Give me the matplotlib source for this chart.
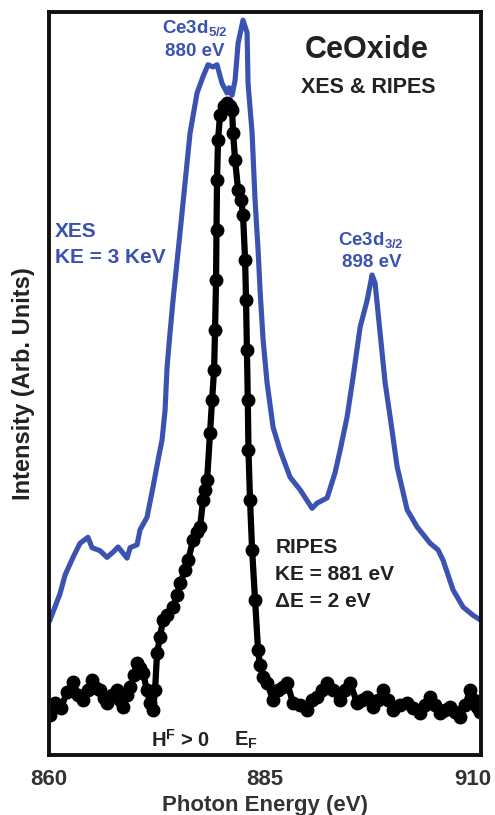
import matplotlib.pyplot as plt
import matplotlib.transforms as mtransforms

plt.rcParams['font.family'] = ['Liberation Sans', 'DejaVu Sans']
plt.rcParams['font.weight'] = 'bold'
plt.rcParams['axes.labelweight'] = 'bold'
plt.rcParams['mathtext.fontset'] = 'custom'
plt.rcParams['mathtext.rm'] = 'Liberation Sans:bold'
plt.rcParams['mathtext.it'] = 'Liberation Sans:bold'
plt.rcParams['mathtext.bf'] = 'Liberation Sans:bold'

BLUE = '#3a52b0'
DARK = '#222222'

# XES spectrum (blue line)
xes_energy = [
    860.12, 861.27, 861.85, 862.78, 863.59, 864.51, 864.98, 865.90, 866.71,
    867.41, 867.99, 869.03, 869.38, 870.19, 870.53, 871.34, 872.04, 872.62,
    873.08, 873.43, 873.66, 874.00, 874.35, 875.16, 875.74, 876.32, 877.13,
    877.82, 878.40, 878.98, 879.44, 880.02, 880.60, 880.83, 881.18, 881.53,
    881.88, 882.45, 882.92, 883.03, 883.50, 883.84, 884.19, 884.42, 884.77,
    885.23, 885.93, 886.74, 887.89, 889.05, 890.44, 891.02, 892.18, 893.10,
    893.68, 894.49, 895.19, 896.00, 896.81, 897.38, 897.73, 898.31, 898.89,
    899.47, 900.28, 901.44, 902.59, 904.10, 905.02, 905.60, 906.76, 907.92,
    909.07, 909.88,
]
xes_intensity = [
    0.182, 0.217, 0.242, 0.266, 0.285, 0.293, 0.279, 0.275, 0.266,
    0.273, 0.280, 0.265, 0.279, 0.283, 0.303, 0.320, 0.361, 0.397,
    0.424, 0.464, 0.522, 0.568, 0.612, 0.703, 0.770, 0.837, 0.891,
    0.913, 0.929, 0.926, 0.929, 0.904, 0.891, 0.898, 0.888, 0.908,
    0.958, 0.989, 0.972, 0.904, 0.837, 0.747, 0.680, 0.626, 0.559,
    0.501, 0.441, 0.410, 0.374, 0.357, 0.332, 0.339, 0.346, 0.380,
    0.410, 0.455, 0.509, 0.576, 0.612, 0.646, 0.635, 0.568, 0.501,
    0.455, 0.388, 0.330, 0.307, 0.285, 0.276, 0.262, 0.222, 0.199,
    0.188, 0.182,
]

# RIPES spectrum (black dots)
ripes_energy = [
    860.12, 860.69, 861.39, 862.08, 862.78, 863.36, 863.94, 864.51, 864.98,
    865.44, 865.90, 866.37, 866.71, 867.29, 867.87, 868.22, 868.56, 869.03,
    869.38, 869.84, 870.19, 870.53, 870.88, 871.34, 871.69, 872.04, 872.27,
    872.50, 872.85, 873.19, 873.66, 874.35, 874.81, 875.16, 875.74, 876.09,
    876.67, 877.13, 877.48, 877.82, 878.06, 878.29, 878.63, 878.87, 879.10,
    879.21, 879.33, 879.38, 879.44, 879.56, 879.79, 880.25, 880.60, 880.95,
    881.18, 881.30, 881.53, 881.88, 882.22, 882.45, 882.69, 882.80, 882.90,
    883.00, 883.08, 883.26, 883.50, 883.84, 884.19, 884.42, 884.77, 885.23,
    885.93, 886.50, 887.08, 887.55, 888.24, 889.05, 889.86, 890.44, 891.02,
    891.60, 892.18, 892.87, 893.68, 894.26, 894.84, 895.65, 896.23, 896.81,
    897.50, 898.08, 898.66, 899.24, 899.81, 900.63, 901.44, 902.13, 902.94,
    903.52, 904.10, 904.68, 905.25, 905.83, 906.41, 906.99, 907.57, 908.15,
    908.73, 909.19, 909.54, 909.88,
]
ripes_intensity = [
    0.054, 0.070, 0.063, 0.085, 0.098, 0.081, 0.074, 0.087, 0.101,
    0.090, 0.087, 0.077, 0.070, 0.081, 0.087, 0.074, 0.065, 0.081,
    0.092, 0.108, 0.124, 0.117, 0.110, 0.087, 0.070, 0.061, 0.087,
    0.137, 0.159, 0.182, 0.188, 0.199, 0.215, 0.231, 0.249, 0.262,
    0.289, 0.300, 0.307, 0.343, 0.357, 0.370, 0.433, 0.478, 0.518,
    0.572, 0.639, 0.707, 0.774, 0.828, 0.861, 0.873, 0.878, 0.873,
    0.868, 0.837, 0.801, 0.760, 0.747, 0.727, 0.666, 0.612, 0.545,
    0.478, 0.410, 0.343, 0.276, 0.209, 0.141, 0.121, 0.105, 0.097,
    0.074, 0.087, 0.092, 0.097, 0.070, 0.067, 0.061, 0.074, 0.078,
    0.087, 0.097, 0.087, 0.074, 0.087, 0.097, 0.070, 0.074, 0.078,
    0.065, 0.074, 0.087, 0.074, 0.061, 0.067, 0.070, 0.063, 0.057,
    0.067, 0.078, 0.067, 0.057, 0.061, 0.065, 0.058, 0.051, 0.067,
    0.087, 0.074, 0.065, 0.058,
]

xticks = [860, 885, 910]

fig = plt.figure(figsize=(4.95, 8.15), dpi=100)
ax = fig.add_axes([0.099, 0.0736, 0.873, 0.9117])

ax.plot(xes_energy, xes_intensity, color=BLUE, linewidth=3.7, solid_joinstyle='round')
ax.plot(ripes_energy, ripes_intensity, color='black', linewidth=4.5,
        marker='o', markersize=9)

ax.set_xlim(860, 910)
ax.set_ylim(0, 1)
ax.set_xticks(xticks)
ax.set_xticklabels([str(t) for t in xticks])
ax.set_yticks([])
ax.tick_params(axis='x', length=0, pad=10, labelsize=16, labelcolor='#333333')
# last tick label sits a bit left of the frame edge
last = ax.get_xticklabels()[-1]
last.set_transform(last.get_transform() +
                   mtransforms.ScaledTranslation(-8 / 100, 0, fig.dpi_scale_trans))
for s in ax.spines.values():
    s.set_linewidth(2.8)
    s.set_color('#111111')

ax.set_xlabel('Photon Energy (eV)', fontsize=16, color='#333333', labelpad=4)
ax.set_ylabel('Intensity (Arb. Units)', fontsize=17, color='#222222', labelpad=10)

# annotations
ax.text(876.9, 0.978, 'Ce3d$_{5/2}$', color=BLUE, fontsize=13.5, ha='center', va='center')
ax.text(876.9, 0.947, '880 eV', color=BLUE, fontsize=13.5, ha='center', va='center')
ax.text(896.8, 0.949, 'CeOxide', color=DARK, fontsize=22, ha='center', va='center')
ax.text(896.9, 0.898, 'XES & RIPES', color=DARK, fontsize=15.5, ha='center', va='center')
ax.text(860.7, 0.704, 'XES', color=BLUE, fontsize=15, ha='left', va='center')
ax.text(860.7, 0.669, 'KE = 3 KeV', color=BLUE, fontsize=15, ha='left', va='center')
ax.text(897.3, 0.693, 'Ce3d$_{3/2}$', color=BLUE, fontsize=13.5, ha='center', va='center')
ax.text(897.3, 0.663, '898 eV', color=BLUE, fontsize=13.5, ha='center', va='center')
ax.text(886.2, 0.279, 'RIPES', color=DARK, fontsize=15, ha='left', va='center')
ax.text(886.2, 0.243, 'KE = 881 eV', color=DARK, fontsize=15, ha='left', va='center')
ax.text(886.2, 0.207, '\u0394E = 2 eV', color=DARK, fontsize=15, ha='left', va='center')
ax.text(871.8, 0.020, 'H$^{F}$ > 0', color=DARK, fontsize=14.5, ha='left', va='center')
ax.text(881.4, 0.020, 'E$_{F}$', color=DARK, fontsize=14.5, ha='left', va='center')

plt.savefig('out.png', dpi=100)
